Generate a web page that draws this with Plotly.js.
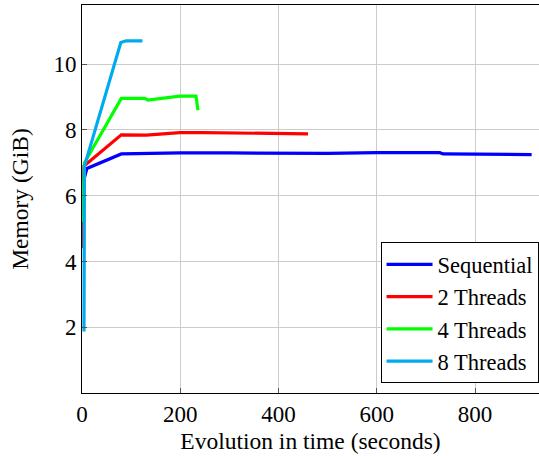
<!DOCTYPE html>
<html>
<head>
<meta charset="utf-8">
<script src="https://cdn.plot.ly/plotly-3.0.1.min.js"></script>
<style>html,body{margin:0;padding:0;background:#fff;}#chart{width:539px;height:456px;}</style>
</head>
<body>
<div id="chart"></div>
<script>
var seqX = [4, 10, 80, 200, 300, 400, 500, 600, 728, 735, 847, 852, 915];
var seqY = [6.5, 6.83, 7.27, 7.30, 7.30, 7.29, 7.29, 7.31, 7.31, 7.27, 7.27, 7.25, 7.25];

var t2X = [1, 1, 4, 80, 131, 199, 246, 369, 375, 460];
var t2Y = [4.4, 5.2, 6.9, 7.85, 7.84, 7.92, 7.92, 7.90, 7.88, 7.88];

var t4X = [1, 5, 80, 128, 134, 199, 232, 236];
var t4Y = [5.2, 7.0, 8.96, 8.96, 8.91, 9.03, 9.03, 8.60];

var t8X = [4, 5, 79, 90, 123];
var t8Y = [1.87, 6.9, 10.66, 10.71, 10.71];

var names = ['Sequential', '2 Threads', '4 Threads', '8 Threads'];
var colors = ['#0000ff', '#ff0000', '#00ff00', '#00aaee'];
var xs = [seqX, t2X, t4X, t8X];
var ys = [seqY, t2Y, t4Y, t8Y];

var traces = xs.map(function (x, i) {
  return {x: x, y: ys[i], name: names[i], mode: 'lines', type: 'scatter',
          line: {color: colors[i], width: 3.2}};
});

function F(s) { return {family: 'Liberation Serif', size: s, color: '#000'}; }

var layout = {
  width: 539, height: 456,
  margin: {l: 82, r: 0, t: 5, b: 63},
  paper_bgcolor: '#fff', plot_bgcolor: '#fff',
  font: F(23),
  showlegend: true,
  legend: {x: 0.999, y: 0.025, xanchor: 'right', yanchor: 'bottom',
           bordercolor: '#000', borderwidth: 1, bgcolor: '#fff',
           itemwidth: 46, font: F(22.5), tracegroupgap: 0},
  xaxis: {range: [0, 930], tickvals: [0, 200, 400, 600, 800],
          tickfont: F(23),
          showgrid: true, gridcolor: '#cccccc', gridwidth: 1,
          showline: true, linecolor: '#000', linewidth: 1, mirror: true,
          ticks: 'inside', ticklen: 5, tickcolor: '#555', zeroline: false,
          title: {text: 'Evolution in time (seconds)', font: F(23.5), standoff: 6}},
  yaxis: {range: [0, 11.8], tickvals: [2, 4, 6, 8, 10],
          tickfont: F(23),
          showgrid: true, gridcolor: '#cccccc', gridwidth: 1,
          showline: true, linecolor: '#000', linewidth: 1, mirror: true,
          ticks: 'inside', ticklen: 5, tickcolor: '#555', zeroline: false,
          title: {text: 'Memory (GiB)', font: F(23.5), standoff: 18}}
};

Plotly.newPlot('chart', traces, layout, {displayModeBar: false, staticPlot: true});
</script>
</body>
</html>
